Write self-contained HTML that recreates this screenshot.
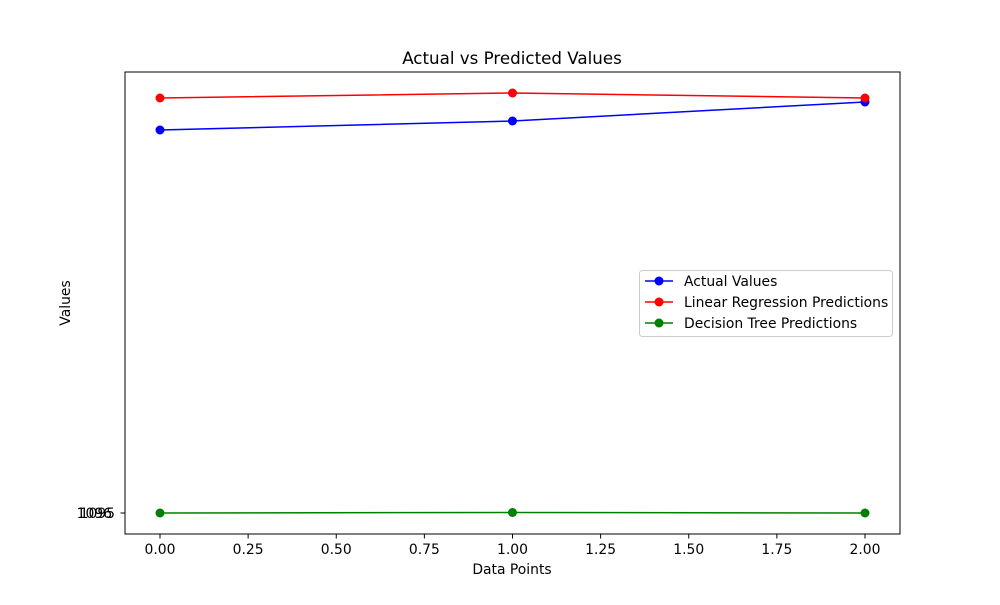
<!DOCTYPE html>
<html><head><meta charset="utf-8"><style>
body{margin:0;background:#fff}
svg text{font-family:"DejaVu Sans","Liberation Sans",sans-serif;fill:#000}
</style></head><body>
<svg id="chart" width="1000" height="600">
<rect x="0" y="0" width="1000" height="600" fill="#fff"/>
<text x="512" y="64" font-size="16.7" text-anchor="middle">Actual vs Predicted Values</text>
<text x="512" y="574" font-size="13.9" text-anchor="middle">Data Points</text>
<text x="70" y="303" font-size="13.9" text-anchor="middle" transform="rotate(-90 70 303)">Values</text>
<g id="xticks"></g><g id="yticks"></g><g id="series"></g>
<rect x="125" y="72" width="775" height="462" fill="none" stroke="#000" stroke-width="1"/>
<g>
<rect x="639.5" y="270.5" width="253" height="66" rx="3" fill="#fff" stroke="#ccc"/>
<g><line x1="645" x2="673" y1="281" y2="281" stroke="blue" stroke-width="1.5"/><circle cx="659" cy="281" r="4.5" fill="blue"/><text x="684" y="286" font-size="13.9">Actual Values</text></g>
<g><line x1="645" x2="673" y1="302" y2="302" stroke="red" stroke-width="1.5"/><circle cx="659" cy="302" r="4.5" fill="red"/><text x="684" y="307" font-size="13.9">Linear Regression Predictions</text></g>
<g><line x1="645" x2="673" y1="323" y2="323" stroke="green" stroke-width="1.5"/><circle cx="659" cy="323" r="4.5" fill="green"/><text x="684" y="328" font-size="13.9">Decision Tree Predictions</text></g>
</g>
</svg>
<script>
const categories=[0,1,2];
const actualValues=[383,392,411];
const linearValues=[415,420,415];
const treeValues=[0,0.5,0];
const xTickLabels=["0.00","0.25","0.50","0.75","1.00","1.25","1.50","1.75","2.00"];
const xTickValues=[0,0.25,0.5,0.75,1,1.25,1.5,1.75,2];
const yTickLabels=["1095","1096"];
const yTickValues=[0,0];
const NS="http://www.w3.org/2000/svg";
function xs(v){return 160+v*352.5;}
function ys(v){return 534-(v+21);}
function mk(t,a,p){const e=document.createElementNS(NS,t);for(const k in a)e.setAttribute(k,a[k]);p.appendChild(e);return e;}
const xt=document.getElementById('xticks');
xTickValues.forEach((v,i)=>{
 const g=mk('g',{},xt);
 
 
 mk('line',{x1:xs(v),x2:xs(v),y1:534,y2:538.5,stroke:'#000'},g);
 const t=mk('text',{x:xs(v),y:554,'font-size':13.9,'text-anchor':'middle'},g);t.textContent=xTickLabels[i];
});
const yt=document.getElementById('yticks');
yTickValues.forEach((v,i)=>{
 const g=mk('g',{},yt);
 
 
 mk('line',{x1:120.5,x2:125,y1:ys(v),y2:ys(v),stroke:'#000'},g);
 const t=mk('text',{x:115-i*3,y:ys(v)+5,'font-size':13.9,'text-anchor':'end'},g);t.textContent=yTickLabels[i];
});
const sg=document.getElementById('series');
[[actualValues,'blue','actual'],[linearValues,'red','linear-regression'],[treeValues,'green','decision-tree']].forEach(([vals,c,n])=>{
 const g=mk('g',{},sg);
 
 
 mk('polyline',{points:vals.map((v,i)=>xs(categories[i])+','+ys(v)).join(' '),fill:'none',stroke:c,'stroke-width':1.5},g);
 vals.forEach((v,i)=>{
  const p=mk('circle',{cx:xs(categories[i]),cy:ys(v),r:4.5,fill:c},g);
  
  
 });
});
</script>
</body></html>
